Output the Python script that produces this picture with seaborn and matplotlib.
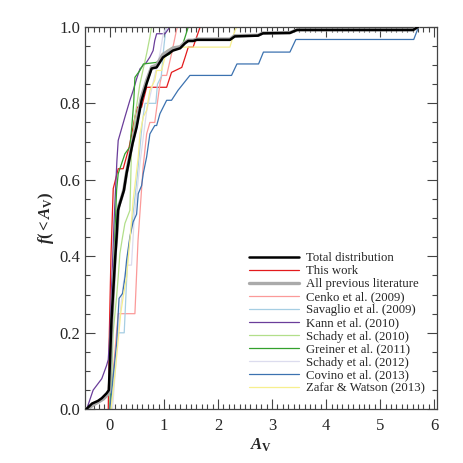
import numpy as np
import pandas as pd
import matplotlib
matplotlib.use("Agg")
import matplotlib.pyplot as plt
from matplotlib.ticker import MultipleLocator
import seaborn as sns

# cumulative A_V distributions as (A_V, f) vertices
total_x = [-0.44, -0.38, -0.33, -0.22, -0.15, -0.06, -0.02, 0.0, 0.03, 0.10, 0.124, 0.15, 0.2, 0.259, 0.309,
           0.42, 0.494, 0.587, 0.68, 0.772, 0.865, 0.981, 1.167, 1.30, 1.39, 1.45, 1.54, 1.61, 2.22, 2.31,
           2.74, 2.83, 3.33, 3.46, 5.61, 5.70]
total_y = [0.0, 0.008, 0.015, 0.022, 0.029, 0.042, 0.05, 0.12, 0.234, 0.40, 0.45, 0.52, 0.545, 0.572, 0.617,
           0.695, 0.737, 0.808, 0.852, 0.891, 0.894, 0.920, 0.938, 0.944, 0.957, 0.963, 0.963, 0.966, 0.966, 0.975,
           0.977, 0.983, 0.984, 0.992, 0.992, 1.0]

this_x = [-0.03, -0.01, 0.02, 0.062, 0.154, 0.246, 0.357, 0.463, 0.506, 0.587, 0.68, 1.05, 1.14, 1.33, 1.39,
          1.45, 1.54, 1.67]
this_y = [0.0, 0.2, 0.4, 0.577, 0.629, 0.629, 0.686, 0.764, 0.790, 0.790, 0.842, 0.842, 0.881, 0.894, 0.920,
          0.947, 0.947, 1.0]

prev_x = [-0.44, -0.36, -0.30, -0.2, -0.12, -0.05, -0.01, 0.01, 0.04, 0.10, 0.13, 0.16, 0.21, 0.26, 0.31,
          0.42, 0.49, 0.58, 0.68, 0.772, 0.865, 0.98, 1.17, 1.30, 1.39, 1.45, 1.54, 1.61, 2.22, 2.31,
          2.74, 2.83, 3.33, 3.46, 5.61, 5.70]
prev_y = [0.0, 0.006, 0.012, 0.02, 0.027, 0.037, 0.045, 0.12, 0.24, 0.41, 0.46, 0.53, 0.55, 0.575, 0.62,
          0.70, 0.745, 0.815, 0.86, 0.895, 0.90, 0.928, 0.945, 0.948, 0.96, 0.965, 0.965, 0.968, 0.968, 0.977,
          0.978, 0.984, 0.985, 0.992, 0.992, 1.0]

cenko_x = [0.0, 0.154, 0.463, 0.52, 0.615, 0.68, 0.74, 0.83, 0.93, 0.96, 1.05, 1.14, 1.23, 1.25]
cenko_y = [0.0, 0.25, 0.25, 0.44, 0.634, 0.72, 0.75, 0.75, 0.855, 0.873, 0.873, 0.929, 0.99, 1.0]

savaglio_x = [0.02, 0.154, 0.265, 0.33, 0.42, 0.5, 0.6, 0.65, 0.85, 0.88, 0.95, 1.0, 1.04]
savaglio_y = [0.0, 0.2, 0.2, 0.4, 0.5, 0.6, 0.75, 0.8, 0.8, 0.85, 0.87, 0.95, 1.0]

kann_x = [-0.43, -0.31, -0.15, -0.06, -0.03, 0.0, 0.08, 0.13, 0.154, 0.278, 0.370, 0.432, 0.494, 0.556,
          0.68, 0.74, 0.80, 0.83, 0.865, 1.02, 1.11]
kann_y = [0.0, 0.05, 0.08, 0.115, 0.13, 0.2, 0.5, 0.65, 0.703, 0.764, 0.808, 0.834, 0.864, 0.890,
          0.908, 0.921, 0.938, 0.964, 0.982, 0.982, 1.0]

schady10_x = [0.02, 0.06, 0.124, 0.154, 0.185, 0.235, 0.278, 0.37, 0.40, 0.463, 0.556, 0.68, 0.74, 0.77]
schady10_y = [0.0, 0.2, 0.294, 0.346, 0.407, 0.451, 0.486, 0.52, 0.677, 0.764, 0.851, 0.93, 0.973, 1.0]

greiner_x = [0.0, 0.05, 0.124, 0.154, 0.278, 0.37, 0.40, 0.44, 0.463, 0.556, 0.62, 0.86, 0.98, 1.11, 1.20,
             1.33, 1.39, 1.45]
greiner_y = [0.0, 0.3, 0.573, 0.616, 0.668, 0.686, 0.73, 0.80, 0.868, 0.886, 0.903, 0.907, 0.920, 0.929, 0.947,
             0.947, 0.973, 1.0]

schady12_x = [0.05, 0.15, 0.25, 0.31, 0.40, 0.45, 0.556, 0.68, 0.865, 0.926, 0.987, 1.05]
schady12_y = [0.0, 0.2, 0.33, 0.377, 0.377, 0.5, 0.643, 0.78, 0.895, 0.93, 0.982, 1.0]

covino_x = [0.0, 0.06, 0.124, 0.154, 0.17, 0.235, 0.28, 0.309, 0.37, 0.43, 0.494, 0.525, 0.587, 0.617,
            0.68, 0.74, 0.83, 0.865, 0.926, 1.05, 1.14, 1.26, 1.48, 2.25, 2.35, 2.75, 2.84, 3.33, 3.44,
            5.62, 5.71]
covino_y = [0.0, 0.085, 0.172, 0.25, 0.29, 0.303, 0.346, 0.39, 0.451, 0.49, 0.51, 0.564, 0.585, 0.616,
            0.66, 0.72, 0.742, 0.742, 0.773, 0.808, 0.808, 0.834, 0.873, 0.873, 0.903, 0.903, 0.934, 0.934, 0.967,
            0.967, 1.0]

zafar_x = [0.02, 0.1, 0.2, 0.246, 0.309, 0.37, 0.43, 0.525, 0.556, 0.617, 0.68, 0.74, 0.83, 0.865, 0.957,
           1.05, 1.17, 1.36, 1.54, 2.22, 2.31, 2.35]
zafar_y = [0.0, 0.1, 0.25, 0.294, 0.346, 0.442, 0.546, 0.66, 0.72, 0.764, 0.782, 0.834, 0.86, 0.886, 0.886,
           0.938, 0.947, 0.947, 0.947, 0.947, 0.99, 1.0]

pal = sns.color_palette("Paired")
series = [
    ("Total distribution", total_x, total_y, "black", 1.8),
    ("This work", this_x, this_y, pal[5], 0.9),
    ("All previous literature", prev_x, prev_y, "#aaaaaa", 2.4),
    ("Cenko et al. (2009)", cenko_x, cenko_y, pal[4], 0.9),
    ("Savaglio et al. (2009)", savaglio_x, savaglio_y, pal[0], 0.9),
    ("Kann et al. (2010)", kann_x, kann_y, pal[9], 0.9),
    ("Schady et al. (2010)", schady10_x, schady10_y, pal[2], 0.9),
    ("Greiner et al. (2011)", greiner_x, greiner_y, pal[3], 0.9),
    ("Schady et al. (2012)", schady12_x, schady12_y, "#dcdcee", 0.9),
    ("Covino et al. (2013)", covino_x, covino_y, "#3c72b0", 0.9),
    ("Zafar & Watson (2013)", zafar_x, zafar_y, "#f7ef8e", 0.9),
]
zorders = {"Total distribution": 10, "All previous literature": 9}

sns.set_style("ticks")
plt.rcParams["font.family"] = ["Liberation Serif", "DejaVu Serif"]
plt.rcParams["mathtext.fontset"] = "custom"
plt.rcParams["mathtext.it"] = "Liberation Serif:bold:italic"
plt.rcParams["mathtext.rm"] = "Liberation Serif:bold"
plt.rcParams["mathtext.bf"] = "Liberation Serif:bold"

fig = plt.figure(figsize=(4.63, 4.63), dpi=100)
ax = fig.add_axes([0.1836, 0.116, 0.7602, 0.826])

for name, xs, ys, col, lw in series:
    df = pd.DataFrame({"Av": xs, "f": ys})
    sns.lineplot(data=df, x="Av", y="f", sort=False, estimator=None, color=col, lw=lw,
                 label=name, ax=ax, zorder=zorders.get(name, 2))

ax.set_xlim(-0.46, 6.05)
ax.set_ylim(0.0, 1.0)
ax.xaxis.set_major_locator(MultipleLocator(1))
ax.xaxis.set_minor_locator(MultipleLocator(0.1))
ax.yaxis.set_major_locator(MultipleLocator(0.2))
ax.yaxis.set_minor_locator(MultipleLocator(0.05))
ax.yaxis.set_major_formatter(plt.FormatStrFormatter("%.1f"))
ax.tick_params(which="both", direction="in", top=True, right=True, color="#444444", labelsize=12)
ax.tick_params(which="major", length=7, width=0.8)
ax.tick_params(which="minor", length=3.5, width=0.8)
ax.tick_params(axis="x", which="major", pad=6)
for s in ax.spines.values():
    s.set_color("#444444")
    s.set_linewidth(0.9)

ax.set_xlabel(r"$A_{\rm V}$", fontsize=12, labelpad=2)
ax.set_ylabel(r"$f(<A_{\rm V})$", fontsize=12, labelpad=2)

leg = ax.legend(loc="lower right", bbox_to_anchor=(0.99, 0.015), frameon=False, fontsize=9.2,
                labelspacing=0.08, handlelength=3.9, handletextpad=0.5, borderaxespad=0.3)

fig.savefig("out.png", dpi=100)
